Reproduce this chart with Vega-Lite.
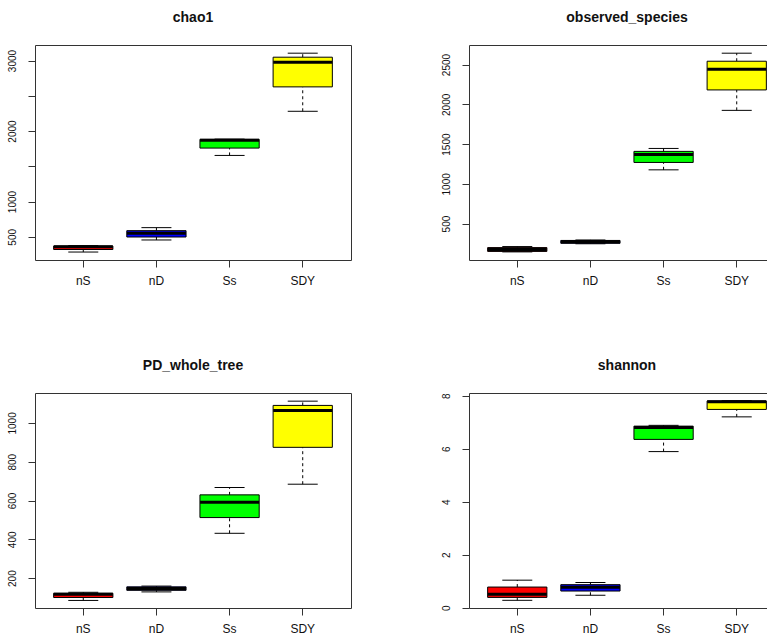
{
  "$schema": "https://vega.github.io/schema/vega-lite/v6.json",
  "background": "white",
  "padding": {"left": 6, "top": 10, "right": 5, "bottom": 5},
  "bounds": "flush",
  "columns": 2,
  "spacing": {"row": 133, "column": 118},
  "datasets": {
    "chao1": [
      {"group": "nS", "lower": 284, "q1": 320, "median": 360, "q3": 369, "upper": 375},
      {"group": "nD", "lower": 455, "q1": 497, "median": 550, "q3": 587, "upper": 630},
      {"group": "Ss", "lower": 1654, "q1": 1758, "median": 1870, "q3": 1882, "upper": 1885},
      {"group": "SDY", "lower": 2280, "q1": 2626, "median": 2976, "q3": 3047, "upper": 3104}
    ],
    "observed_species": [
      {"group": "nS", "lower": 144, "q1": 150, "median": 175, "q3": 198, "upper": 211},
      {"group": "nD", "lower": 245, "q1": 252, "median": 270, "q3": 288, "upper": 295},
      {"group": "Ss", "lower": 1176, "q1": 1269, "median": 1370, "q3": 1408, "upper": 1445},
      {"group": "SDY", "lower": 1924, "q1": 2181, "median": 2441, "q3": 2542, "upper": 2643}
    ],
    "PD_whole_tree": [
      {"group": "nS", "lower": 85, "q1": 100, "median": 117, "q3": 122, "upper": 127},
      {"group": "nD", "lower": 129, "q1": 137, "median": 146, "q3": 155, "upper": 159},
      {"group": "Ss", "lower": 431, "q1": 512, "median": 591, "q3": 629, "upper": 667},
      {"group": "SDY", "lower": 684, "q1": 874, "median": 1064, "q3": 1090, "upper": 1112}
    ],
    "shannon": [
      {"group": "nS", "lower": 0.28, "q1": 0.39, "median": 0.51, "q3": 0.78, "upper": 1.04},
      {"group": "nD", "lower": 0.47, "q1": 0.63, "median": 0.77, "q3": 0.87, "upper": 0.95},
      {"group": "Ss", "lower": 5.89, "q1": 6.35, "median": 6.80, "q3": 6.85, "upper": 6.88},
      {"group": "SDY", "lower": 7.20, "q1": 7.48, "median": 7.77, "q3": 7.80, "upper": 7.81}
    ]
  },
  "concat": [
    {
      "width": 316, "height": 215,
      "title": {"text": "chao1"},
      "data": {"name": "chao1"},
      "encoding": {
        "x": {"field": "group", "type": "nominal", "sort": ["nS", "nD", "Ss", "SDY"], "scale": {"paddingInner": 0.19, "paddingOuter": 0.255}, "axis": {"title": null, "labelAngle": 0}}
      },
      "layer": [
        {"mark": {"type": "rule", "strokeDash": [3, 3], "color": "black"},
         "encoding": {"y": {"field": "lower", "type": "quantitative", "title": null, "scale": {"domain": [171, 3220], "nice": false, "zero": false}, "axis": {"title": null, "format": "d", "labelAngle": 270, "values": [500, 1000, 1500, 2000, 2500, 3000], "labelExpr": "datum.value == 1500 || datum.value == 2500 ? '' : datum.label"}}, "y2": {"field": "q1"}}},
        {"mark": {"type": "rule", "strokeDash": [3, 3], "color": "black"},
         "encoding": {"y": {"field": "q3", "type": "quantitative", "title": null}, "y2": {"field": "upper"}}},
        {"mark": {"type": "tick", "size": 30, "thickness": 1, "color": "black", "opacity": 1},
         "encoding": {"y": {"field": "lower", "type": "quantitative", "title": null}}},
        {"mark": {"type": "tick", "size": 30, "thickness": 1, "color": "black", "opacity": 1},
         "encoding": {"y": {"field": "upper", "type": "quantitative", "title": null}}},
        {"mark": {"type": "bar", "stroke": "black", "strokeWidth": 1},
         "encoding": {"y": {"field": "q1", "type": "quantitative", "title": null}, "y2": {"field": "q3"},
           "color": {"field": "group", "type": "nominal", "legend": null, "scale": {"domain": ["nS", "nD", "Ss", "SDY"], "range": ["#ff0000", "#0000ff", "#00ff00", "#ffff00"]}}}},
        {"mark": {"type": "tick", "size": 59, "thickness": 3, "color": "black", "opacity": 1},
         "encoding": {"y": {"field": "median", "type": "quantitative", "title": null}}}
      ]
    },
    {
      "width": 316, "height": 215,
      "title": {"text": "observed_species"},
      "data": {"name": "observed_species"},
      "encoding": {
        "x": {"field": "group", "type": "nominal", "sort": ["nS", "nD", "Ss", "SDY"], "scale": {"paddingInner": 0.19, "paddingOuter": 0.255}, "axis": {"title": null, "labelAngle": 0}}
      },
      "layer": [
        {"mark": {"type": "rule", "strokeDash": [3, 3], "color": "black"},
         "encoding": {"y": {"field": "lower", "type": "quantitative", "title": null, "scale": {"domain": [42, 2746], "nice": false, "zero": false}, "axis": {"title": null, "format": "d", "labelAngle": 270, "values": [500, 1000, 1500, 2000, 2500]}}, "y2": {"field": "q1"}}},
        {"mark": {"type": "rule", "strokeDash": [3, 3], "color": "black"},
         "encoding": {"y": {"field": "q3", "type": "quantitative", "title": null}, "y2": {"field": "upper"}}},
        {"mark": {"type": "tick", "size": 30, "thickness": 1, "color": "black", "opacity": 1},
         "encoding": {"y": {"field": "lower", "type": "quantitative", "title": null}}},
        {"mark": {"type": "tick", "size": 30, "thickness": 1, "color": "black", "opacity": 1},
         "encoding": {"y": {"field": "upper", "type": "quantitative", "title": null}}},
        {"mark": {"type": "bar", "stroke": "black", "strokeWidth": 1},
         "encoding": {"y": {"field": "q1", "type": "quantitative", "title": null}, "y2": {"field": "q3"},
           "color": {"field": "group", "type": "nominal", "legend": null, "scale": {"domain": ["nS", "nD", "Ss", "SDY"], "range": ["#ff0000", "#0000ff", "#00ff00", "#ffff00"]}}}},
        {"mark": {"type": "tick", "size": 59, "thickness": 3, "color": "black", "opacity": 1},
         "encoding": {"y": {"field": "median", "type": "quantitative", "title": null}}}
      ]
    },
    {
      "width": 316, "height": 215,
      "title": {"text": "PD_whole_tree"},
      "data": {"name": "PD_whole_tree"},
      "encoding": {
        "x": {"field": "group", "type": "nominal", "sort": ["nS", "nD", "Ss", "SDY"], "scale": {"paddingInner": 0.19, "paddingOuter": 0.255}, "axis": {"title": null, "labelAngle": 0}}
      },
      "layer": [
        {"mark": {"type": "rule", "strokeDash": [3, 3], "color": "black"},
         "encoding": {"y": {"field": "lower", "type": "quantitative", "title": null, "scale": {"domain": [46, 1154], "nice": false, "zero": false}, "axis": {"title": null, "format": "d", "labelAngle": 270, "values": [200, 400, 600, 800, 1000]}}, "y2": {"field": "q1"}}},
        {"mark": {"type": "rule", "strokeDash": [3, 3], "color": "black"},
         "encoding": {"y": {"field": "q3", "type": "quantitative", "title": null}, "y2": {"field": "upper"}}},
        {"mark": {"type": "tick", "size": 30, "thickness": 1, "color": "black", "opacity": 1},
         "encoding": {"y": {"field": "lower", "type": "quantitative", "title": null}}},
        {"mark": {"type": "tick", "size": 30, "thickness": 1, "color": "black", "opacity": 1},
         "encoding": {"y": {"field": "upper", "type": "quantitative", "title": null}}},
        {"mark": {"type": "bar", "stroke": "black", "strokeWidth": 1},
         "encoding": {"y": {"field": "q1", "type": "quantitative", "title": null}, "y2": {"field": "q3"},
           "color": {"field": "group", "type": "nominal", "legend": null, "scale": {"domain": ["nS", "nD", "Ss", "SDY"], "range": ["#ff0000", "#0000ff", "#00ff00", "#ffff00"]}}}},
        {"mark": {"type": "tick", "size": 59, "thickness": 3, "color": "black", "opacity": 1},
         "encoding": {"y": {"field": "median", "type": "quantitative", "title": null}}}
      ]
    },
    {
      "width": 316, "height": 215,
      "title": {"text": "shannon"},
      "data": {"name": "shannon"},
      "encoding": {
        "x": {"field": "group", "type": "nominal", "sort": ["nS", "nD", "Ss", "SDY"], "scale": {"paddingInner": 0.19, "paddingOuter": 0.255}, "axis": {"title": null, "labelAngle": 0}}
      },
      "layer": [
        {"mark": {"type": "rule", "strokeDash": [3, 3], "color": "black"},
         "encoding": {"y": {"field": "lower", "type": "quantitative", "title": null, "scale": {"domain": [-0.01, 8.1], "nice": false, "zero": false}, "axis": {"title": null, "format": "d", "labelAngle": 270, "values": [0, 2, 4, 6, 8]}}, "y2": {"field": "q1"}}},
        {"mark": {"type": "rule", "strokeDash": [3, 3], "color": "black"},
         "encoding": {"y": {"field": "q3", "type": "quantitative", "title": null}, "y2": {"field": "upper"}}},
        {"mark": {"type": "tick", "size": 30, "thickness": 1, "color": "black", "opacity": 1},
         "encoding": {"y": {"field": "lower", "type": "quantitative", "title": null}}},
        {"mark": {"type": "tick", "size": 30, "thickness": 1, "color": "black", "opacity": 1},
         "encoding": {"y": {"field": "upper", "type": "quantitative", "title": null}}},
        {"mark": {"type": "bar", "stroke": "black", "strokeWidth": 1},
         "encoding": {"y": {"field": "q1", "type": "quantitative", "title": null}, "y2": {"field": "q3"},
           "color": {"field": "group", "type": "nominal", "legend": null, "scale": {"domain": ["nS", "nD", "Ss", "SDY"], "range": ["#ff0000", "#0000ff", "#00ff00", "#ffff00"]}}}},
        {"mark": {"type": "tick", "size": 59, "thickness": 3, "color": "black", "opacity": 1},
         "encoding": {"y": {"field": "median", "type": "quantitative", "title": null}}}
      ]
    }
  ],
  "config": {
    "font": "Liberation Sans",
    "view": {"stroke": "#333333", "strokeWidth": 1},
    "title": {"fontSize": 14, "fontWeight": "bold", "font": "Liberation Sans", "color": "#111111", "anchor": "middle", "offset": 20},
    "axisX": {"labelAngle": 0, "domain": false, "tickSize": 7, "tickColor": "#333333", "labelFontSize": 12, "labelPadding": 8, "labelColor": "#111111", "labelFont": "Liberation Sans", "grid": false},
    "axisY": {"domain": false, "tickSize": 7, "tickColor": "#333333", "labelPadding": 11, "labelFontSize": 10, "labelColor": "#111111", "labelFont": "Liberation Sans", "grid": false}
  }
}
